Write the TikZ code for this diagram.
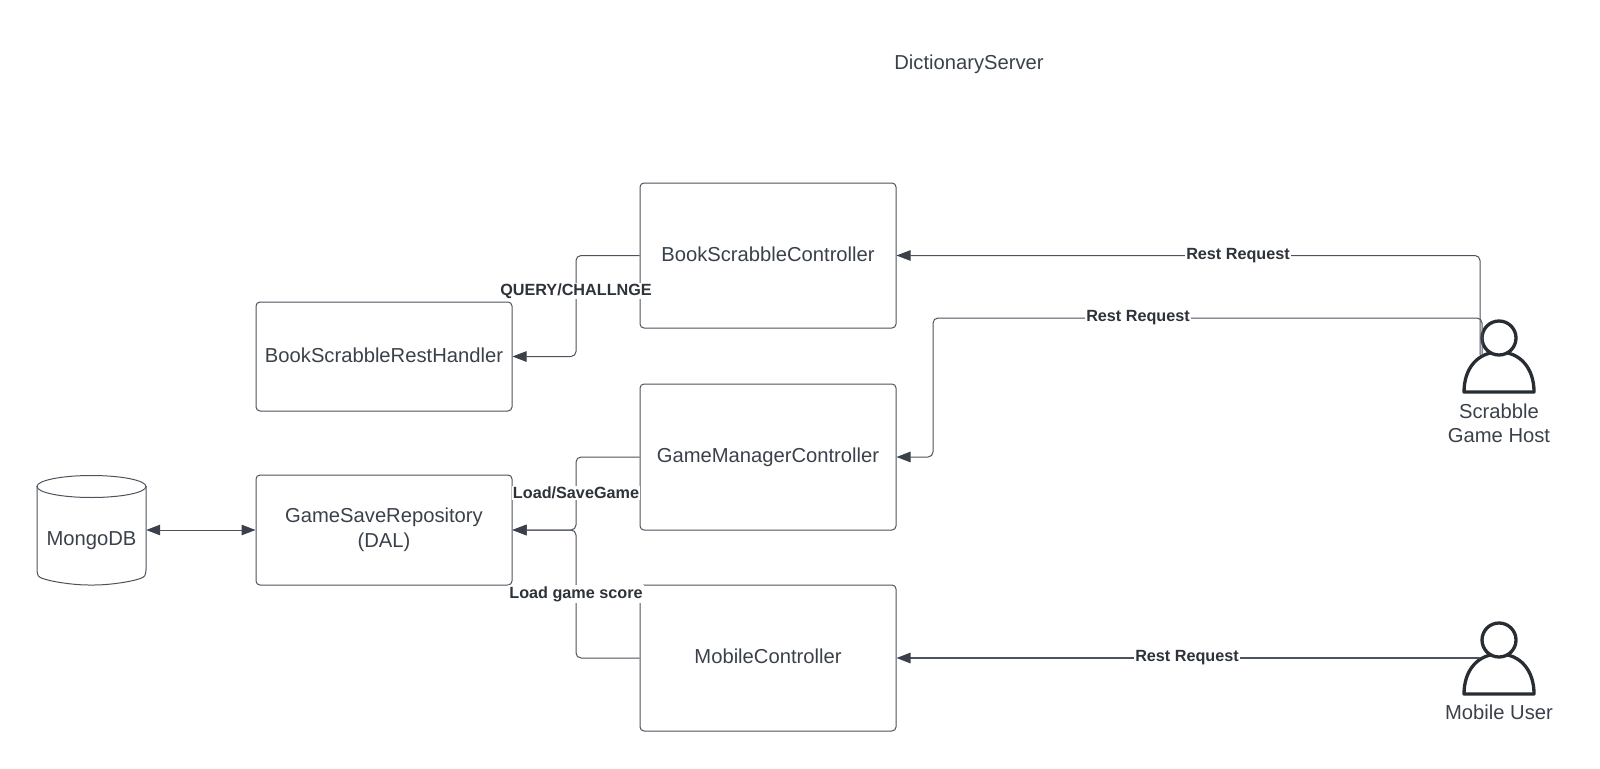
\documentclass[tikz,border=0pt]{standalone}
\usepackage{fontspec}
\setmainfont{Liberation Sans}
\usetikzlibrary{arrows.meta}
\definecolor{ink}{HTML}{3A414A}
\definecolor{labink}{HTML}{2E333A}
\definecolor{edge}{HTML}{4C535D}
\definecolor{figure}{HTML}{282C33}
\tikzset{
  box/.style={draw=edge,line width=1pt,rounded corners=4pt,text=ink,align=center,font=\fontsize{20.2}{24.5}\selectfont,inner sep=0pt},
  oneline/.style={text height=15pt,text depth=4pt},
  plain/.style={text=ink,align=center,font=\fontsize{20.2}{24.5}\selectfont,inner sep=0pt},
  conn/.style={draw=edge,line width=1pt,rounded corners=5pt},
  arr/.style={-{Triangle[length=14pt,width=10.5pt,color=ink]}},
  lab/.style={fill=white,text=labink,font=\bfseries\fontsize{16.2}{18}\selectfont,inner xsep=1pt,inner ysep=1pt},
  person/.style={draw=figure,line width=3.3pt,line join=round}
}
\begin{document}
\begin{tikzpicture}[x=1pt,y=-1pt]
\useasboundingbox (0,0) rectangle (1600,768);
% boxes
\node[box,oneline,minimum width=256pt,minimum height=145pt] (bsc) at (768,255.5) {BookScrabbleController};
\node[box,oneline,minimum width=256pt,minimum height=109pt] (brh) at (384,356.5) {BookScrabbleRestHandler};
\node[box,oneline,minimum width=256pt,minimum height=146pt] (gmc) at (768,457) {GameManagerController};
\node[box,oneline,minimum width=256pt,minimum height=146pt] (mc) at (768,658) {MobileController};
\node[box,minimum width=256pt,minimum height=110pt] (gsr) at (384,530) {GameSaveRepository\\(DAL)};
\node[plain] (title) at (969,64) {DictionaryServer};
% database
\node[minimum width=109pt,minimum height=109pt,inner sep=0pt] (db) at (91.5,530) {};
\draw[draw=edge,line width=1pt,rounded corners=3pt] (37,486) -- (37,573) .. controls (40,580) and (70,585) .. (91.5,585) .. controls (113,585) and (143,580) .. (146,573) -- (146,486);
\draw[draw=edge,line width=1pt] (91.5,486.5) ellipse [x radius=54.5pt,y radius=11pt];
\node[plain] (dblabel) at (91.5,541) {MongoDB};
% people
\draw[person] (1464,392) .. controls (1464,368) and (1478,352) .. (1499,352) .. controls (1520,352) and (1534,368) .. (1534,392) -- cycle;
\node[circle,person,minimum size=34pt,inner sep=0pt,fill=white] (hosthead) at (1499,338) {};
\node[plain] (hostlabel) at (1499,423.5) {Scrabble\\Game Host};
\draw[person] (1464,694) .. controls (1464,670) and (1478,654) .. (1499,654) .. controls (1520,654) and (1534,670) .. (1534,694) -- cycle;
\node[circle,person,minimum size=34pt,inner sep=0pt,fill=white] (userhead) at (1499,640) {};
\node[plain] (userlabel) at (1499,712.5) {Mobile User};
\coordinate (hostportA) at (1480,355);
\coordinate (hostportB) at (1482,355);
\coordinate (userport) at (1480,658);
\coordinate (busA) at (576,0);
\coordinate (busB) at (933,0);
% connectors
\draw[conn,arr] (bsc.west) -| (busA |- brh.east) -- (brh.east);
\draw[conn,arr] (gmc.west) -| (busA |- gsr.east) -- (gsr.east);
\draw[conn,arr] (mc.west) -| (busA |- gsr.east) -- (gsr.east);
\draw[conn,arr] (hostportA) |- (bsc.east);
\draw[conn,arr] (hostportB) |- (busB |- 0,318) -- (busB |- gmc.east) -- (gmc.east);
\draw[conn,arr,line width=1.4pt] (userport) -- (mc.east);
\draw[draw=edge,line width=1pt,{Triangle[length=14pt,width=10.5pt,color=ink]}-{Triangle[length=14pt,width=10.5pt,color=ink]}] (db.east) -- (gsr.west);
% labels
\node[lab] (l1) at (576,291) {QUERY/CHALLNGE};
\node[lab] (l2) at (576,493) {Load/SaveGame};
\node[lab] (l3) at (576,594) {Load game score};
\node[lab] (l4) at (1238,255.5) {Rest Request};
\node[lab] (l5) at (1138,317.5) {Rest Request};
\node[lab] (l6) at (1187,657.5) {Rest Request};
\end{tikzpicture}
\end{document}
